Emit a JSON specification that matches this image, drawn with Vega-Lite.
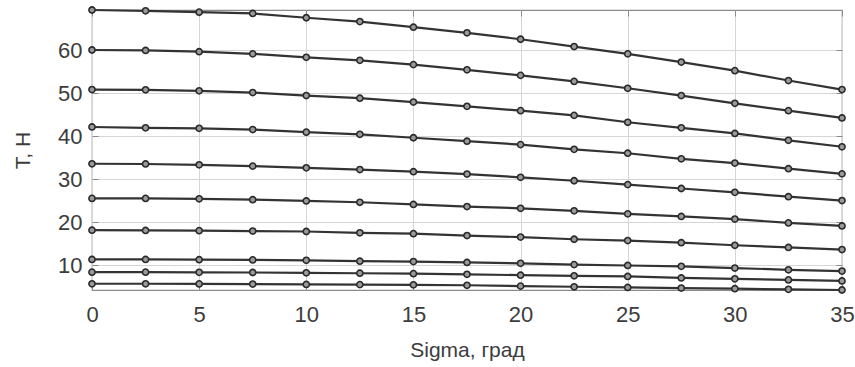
{
  "$schema": "https://vega.github.io/schema/vega-lite/v6.json",
  "width": 750,
  "height": 280,
  "autosize": "none",
  "padding": {"left": 92, "top": 10, "right": 13, "bottom": 77},
  "background": "white",
  "view": {"stroke": "#8a8a8a", "strokeWidth": 1.2},
  "config": {
    "font": "Liberation Sans",
    "axis": {
      "labelFont": "Liberation Sans",
      "titleFont": "Liberation Sans",
      "labelFontSize": 22,
      "titleFontSize": 21,
      "labelColor": "#3c3c3c",
      "titleColor": "#3c3c3c",
      "titleFontWeight": "normal",
      "domain": false,
      "ticks": true,
      "tickColor": "#8a8a8a",
      "tickSize": -6,
      "tickWidth": 1,
      "gridColor": "#d6d6d6",
      "gridOpacity": 1,
      "gridWidth": 1
    }
  },
  "data": {"values": [
    {"s":0,"T":69.4,"c":1},{"s":2.5,"T":69.2,"c":1},{"s":5,"T":68.9,"c":1},{"s":7.5,"T":68.6,"c":1},{"s":10,"T":67.6,"c":1},{"s":12.5,"T":66.7,"c":1},{"s":15,"T":65.4,"c":1},{"s":17.5,"T":64.1,"c":1},{"s":20,"T":62.6,"c":1},{"s":22.5,"T":60.9,"c":1},{"s":25,"T":59.2,"c":1},{"s":27.5,"T":57.3,"c":1},{"s":30,"T":55.3,"c":1},{"s":32.5,"T":53.0,"c":1},{"s":35,"T":50.9,"c":1},
    {"s":0,"T":60.1,"c":2},{"s":2.5,"T":60.0,"c":2},{"s":5,"T":59.7,"c":2},{"s":7.5,"T":59.2,"c":2},{"s":10,"T":58.4,"c":2},{"s":12.5,"T":57.7,"c":2},{"s":15,"T":56.7,"c":2},{"s":17.5,"T":55.5,"c":2},{"s":20,"T":54.2,"c":2},{"s":22.5,"T":52.8,"c":2},{"s":25,"T":51.2,"c":2},{"s":27.5,"T":49.5,"c":2},{"s":30,"T":47.7,"c":2},{"s":32.5,"T":46.0,"c":2},{"s":35,"T":44.3,"c":2},
    {"s":0,"T":50.9,"c":3},{"s":2.5,"T":50.85,"c":3},{"s":5,"T":50.6,"c":3},{"s":7.5,"T":50.2,"c":3},{"s":10,"T":49.5,"c":3},{"s":12.5,"T":48.9,"c":3},{"s":15,"T":48.0,"c":3},{"s":17.5,"T":47.0,"c":3},{"s":20,"T":46.0,"c":3},{"s":22.5,"T":44.9,"c":3},{"s":25,"T":43.3,"c":3},{"s":27.5,"T":42.0,"c":3},{"s":30,"T":40.7,"c":3},{"s":32.5,"T":39.1,"c":3},{"s":35,"T":37.6,"c":3},
    {"s":0,"T":42.2,"c":4},{"s":2.5,"T":42.0,"c":4},{"s":5,"T":41.9,"c":4},{"s":7.5,"T":41.6,"c":4},{"s":10,"T":41.0,"c":4},{"s":12.5,"T":40.5,"c":4},{"s":15,"T":39.7,"c":4},{"s":17.5,"T":38.9,"c":4},{"s":20,"T":38.1,"c":4},{"s":22.5,"T":37.0,"c":4},{"s":25,"T":36.1,"c":4},{"s":27.5,"T":34.8,"c":4},{"s":30,"T":33.8,"c":4},{"s":32.5,"T":32.5,"c":4},{"s":35,"T":31.3,"c":4},
    {"s":0,"T":33.65,"c":5},{"s":2.5,"T":33.6,"c":5},{"s":5,"T":33.4,"c":5},{"s":7.5,"T":33.1,"c":5},{"s":10,"T":32.7,"c":5},{"s":12.5,"T":32.3,"c":5},{"s":15,"T":31.8,"c":5},{"s":17.5,"T":31.25,"c":5},{"s":20,"T":30.5,"c":5},{"s":22.5,"T":29.7,"c":5},{"s":25,"T":28.8,"c":5},{"s":27.5,"T":27.9,"c":5},{"s":30,"T":27.0,"c":5},{"s":32.5,"T":26.0,"c":5},{"s":35,"T":25.1,"c":5},
    {"s":0,"T":25.6,"c":6},{"s":2.5,"T":25.6,"c":6},{"s":5,"T":25.5,"c":6},{"s":7.5,"T":25.3,"c":6},{"s":10,"T":25.0,"c":6},{"s":12.5,"T":24.7,"c":6},{"s":15,"T":24.2,"c":6},{"s":17.5,"T":23.7,"c":6},{"s":20,"T":23.3,"c":6},{"s":22.5,"T":22.7,"c":6},{"s":25,"T":22.0,"c":6},{"s":27.5,"T":21.4,"c":6},{"s":30,"T":20.8,"c":6},{"s":32.5,"T":19.9,"c":6},{"s":35,"T":19.2,"c":6},
    {"s":0,"T":18.2,"c":7},{"s":2.5,"T":18.15,"c":7},{"s":5,"T":18.1,"c":7},{"s":7.5,"T":18.0,"c":7},{"s":10,"T":17.9,"c":7},{"s":12.5,"T":17.6,"c":7},{"s":15,"T":17.4,"c":7},{"s":17.5,"T":16.95,"c":7},{"s":20,"T":16.6,"c":7},{"s":22.5,"T":16.1,"c":7},{"s":25,"T":15.8,"c":7},{"s":27.5,"T":15.3,"c":7},{"s":30,"T":14.7,"c":7},{"s":32.5,"T":14.2,"c":7},{"s":35,"T":13.7,"c":7},
    {"s":0,"T":11.4,"c":8},{"s":2.5,"T":11.4,"c":8},{"s":5,"T":11.35,"c":8},{"s":7.5,"T":11.3,"c":8},{"s":10,"T":11.2,"c":8},{"s":12.5,"T":11.0,"c":8},{"s":15,"T":10.9,"c":8},{"s":17.5,"T":10.7,"c":8},{"s":20,"T":10.5,"c":8},{"s":22.5,"T":10.2,"c":8},{"s":25,"T":10.0,"c":8},{"s":27.5,"T":9.8,"c":8},{"s":30,"T":9.4,"c":8},{"s":32.5,"T":9.0,"c":8},{"s":35,"T":8.7,"c":8},
    {"s":0,"T":8.45,"c":9},{"s":2.5,"T":8.45,"c":9},{"s":5,"T":8.4,"c":9},{"s":7.5,"T":8.37,"c":9},{"s":10,"T":8.3,"c":9},{"s":12.5,"T":8.2,"c":9},{"s":15,"T":8.1,"c":9},{"s":17.5,"T":7.95,"c":9},{"s":20,"T":7.75,"c":9},{"s":22.5,"T":7.6,"c":9},{"s":25,"T":7.45,"c":9},{"s":27.5,"T":7.1,"c":9},{"s":30,"T":6.9,"c":9},{"s":32.5,"T":6.65,"c":9},{"s":35,"T":6.4,"c":9},
    {"s":0,"T":5.75,"c":10},{"s":2.5,"T":5.75,"c":10},{"s":5,"T":5.72,"c":10},{"s":7.5,"T":5.68,"c":10},{"s":10,"T":5.6,"c":10},{"s":12.5,"T":5.55,"c":10},{"s":15,"T":5.5,"c":10},{"s":17.5,"T":5.4,"c":10},{"s":20,"T":5.2,"c":10},{"s":22.5,"T":5.05,"c":10},{"s":25,"T":4.9,"c":10},{"s":27.5,"T":4.75,"c":10},{"s":30,"T":4.6,"c":10},{"s":32.5,"T":4.45,"c":10},{"s":35,"T":4.3,"c":10}
  ]},
  "layer": [
    {
      "mark": {"type": "line", "color": "#333333", "strokeWidth": 2.2, "clip": false},
      "encoding": {
        "x": {"field": "s", "type": "quantitative",
          "scale": {"domain": [0, 35], "nice": false, "zero": false},
          "axis": {"title": "Sigma, град", "grid": true, "values": [0,5,10,15,20,25,30,35], "labelPadding": 20, "titlePadding": 14, "labelFlush": false}},
        "y": {"field": "T", "type": "quantitative",
          "scale": {"domain": [4.3, 69.4], "nice": false, "zero": false},
          "axis": {"title": "Т, Н", "grid": true, "values": [10,20,30,40,50,60], "labelPadding": 16, "titlePadding": 24, "labelFlush": false}},
        "detail": {"field": "c", "type": "nominal"}
      }
    },
    {
      "mark": {"type": "point", "shape": "circle", "filled": false, "size": 38, "stroke": "#2a2a2a", "fill": "#9a9a9a", "fillOpacity": 1, "strokeWidth": 1.6, "clip": false},
      "encoding": {
        "x": {"field": "s", "type": "quantitative",
          "axis": {"orient": "top", "values": [0,5,10,15,20,25,30,35], "labels": false, "title": null, "grid": false}},
        "y": {"field": "T", "type": "quantitative",
          "axis": {"orient": "right", "values": [10,20,30,40,50,60], "labels": false, "title": null, "grid": false}}
      }
    }
  ],
  "resolve": {"axis": {"x": "independent", "y": "independent"}}
}
